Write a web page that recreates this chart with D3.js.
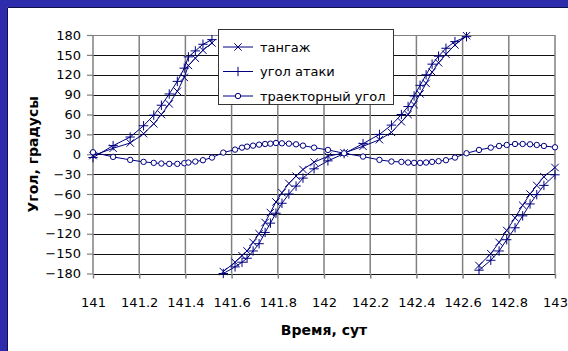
<!DOCTYPE html>
<html>
<head>
<meta charset="utf-8">
<script src="https://cdn.jsdelivr.net/npm/d3@7"></script>
<style>
  body { margin: 0; background: #fff; }
  svg { display: block; }
</style>
</head>
<body>
<script>
// Time, days
const time = [
  141.000, 141.087, 141.161, 141.219, 141.263, 141.296, 141.330, 141.365, 141.395, 141.413,
  141.443, 141.476, 141.515,
  141.564, 141.615, 141.645, 141.667, 141.693, 141.719, 141.745, 141.768, 141.792, 141.818,
  141.848, 141.879, 141.909, 141.957, 142.017, 142.087, 142.169, 142.240, 142.292, 142.335,
  142.364, 142.390, 142.416, 142.442, 142.468, 142.496, 142.528, 142.567, 142.617,
  142.671, 142.722, 142.758, 142.791, 142.827, 142.860, 142.892, 142.921, 142.952, 143.000
];
// Pitch angle, degrees (wrapped to -180..180)
const pitch = [
  -2, 9, 17, 31, 46, 60, 76, 95, 116, 134,
  145, 157, 168,
  -177, -163, -153, -146, -133, -120, -103, -88, -72, -58,
  -44, -33, -23, -12, -3, 2, 12, 22, 33, 49,
  60, 75, 91, 107, 124, 138, 151, 165, 179,
  -168, -150, -133, -115, -96, -77, -60, -47, -34, -20
];
// Angle of attack, degrees
const attack = [
  -5, 13, 26, 43, 59, 74, 91, 110, 130, 147,
  156, 166, 173,
  -180, -170, -163, -157, -146, -135, -118, -104, -89, -74,
  -60, -48, -36, -22, -10, 1, 16, 30, 44, 60,
  72, 88, 104, 120, 136, 148, 160, 170, 177.5,
  -175, -160, -146, -129, -111, -93, -75, -61, -47, -31
];
// Flight path angle, degrees
const trajectory = [
  3, -4, -8.5, -11.5, -13, -14, -14.5, -14.5, -13.5, -12.5,
  -11, -9, -5,
  2.5, 7, 10, 11.5, 13, 14.5, 15.5, 16, 17, 16.5,
  16, 15, 13, 10, 6.5, 1.5, -3.5, -8.5, -11, -11.5,
  -12.5, -13, -13, -12.5, -11.5, -10.5, -9, -5, 1.5,
  6.5, 10, 12.5, 14, 15.5, 15.5, 15, 14, 12.5, 10.5
];
const seriesNames = ["тангаж", "угол атаки", "траекторный угол"];
const xTicks = [141, 141.2, 141.4, 141.6, 141.8, 142, 142.2, 142.4, 142.6, 142.8, 143];
const xTickLabels = ["141", "141.2", "141.4", "141.6", "141.8", "142", "142.2", "142.4", "142.6", "142.8", "143"];
const yTicks = [-180, -150, -120, -90, -60, -30, 0, 30, 60, 90, 120, 150, 180];
const xTitle = "Время, сут";
const yTitle = "Угол, градусы";

const W = 568, H = 351;
const navy = "#000080";
const font = "'DejaVu Sans', Verdana, sans-serif";

const svg = d3.select("body").append("svg").attr("width", W).attr("height", H);

// slide background and white chart sheet
svg.append("rect").attr("width", W).attr("height", H).attr("fill", "#2c2cac");
svg.append("rect").attr("x", 7).attr("y", 7).attr("width", W - 7).attr("height", H - 7).attr("fill", "#fff");
svg.append("path").attr("d", `M7.5,${H}V7.5H${W}`).attr("fill", "none").attr("stroke", "#10104a").attr("stroke-width", 1);

const x = d3.scaleLinear().domain([141, 143]).range([93, 555]);
const y = d3.scaleLinear().domain([-180, 180]).range([273.5, 35]);

// horizontal gridlines
svg.append("g").selectAll("line").data(yTicks).join("line")
  .attr("x1", x(141)).attr("x2", x(143))
  .attr("y1", d => Math.round(y(d)) + 0.5).attr("y2", d => Math.round(y(d)) + 0.5)
  .attr("stroke", d => d === 180 ? "#808080" : "#111").attr("stroke-width", 1);

// vertical gridlines
svg.append("g").selectAll("line").data(xTicks).join("line")
  .attr("x1", d => x(d)).attr("x2", d => x(d))
  .attr("y1", y(180)).attr("y2", y(-180))
  .attr("stroke", "#808080").attr("stroke-width", 1.5);

// y axis (ticks + labels)
const yAxis = d3.axisLeft(y).tickValues(yTicks).tickSize(6).tickPadding(6).tickFormat(d3.format("d"));
const gy = svg.append("g").attr("transform", `translate(${x(141)},0)`).call(yAxis);
gy.select(".domain").remove();
gy.selectAll(".tick line").attr("stroke", "#808080").attr("stroke-width", 1.2);
gy.selectAll(".tick text").attr("font-family", font).attr("font-size", 13).attr("fill", "#000");

// x axis (ticks + labels)
const xAxis = d3.axisBottom(x).tickValues(xTicks).tickSize(5).tickPadding(19)
  .tickFormat((d, i) => xTickLabels[i]);
const gx = svg.append("g").attr("transform", `translate(0,${y(-180)})`).call(xAxis);
gx.select(".domain").remove();
gx.selectAll(".tick line").attr("stroke", "#808080").attr("stroke-width", 1.5);
gx.selectAll(".tick text").attr("font-family", font).attr("font-size", 13).attr("fill", "#000");

// axis titles
svg.append("text").attr("x", (x(141) + x(143)) / 2).attr("y", 335)
  .attr("text-anchor", "middle").attr("font-family", font).attr("font-weight", "bold")
  .attr("font-size", 14).text(xTitle);
svg.append("text").attr("transform", `translate(38,${y(0)}) rotate(-90)`)
  .attr("text-anchor", "middle").attr("font-family", font).attr("font-weight", "bold")
  .attr("font-size", 14).text(yTitle);

// split a wrapped angle series into continuous runs
function runs(values) {
  const out = [];
  let cur = [];
  values.forEach((v, i) => {
    if (i > 0 && Math.abs(v - values[i - 1]) > 180) { out.push(cur); cur = []; }
    cur.push([time[i], v]);
  });
  out.push(cur);
  return out;
}
const line = d3.line().x(d => x(d[0])).y(d => y(d[1]));

const markers = {
  cross: s => `M${-s},${-s}L${s},${s}M${-s},${s}L${s},${-s}`,
  plus: s => `M${-s},0H${s}M0,${-s}V${s}`
};

function drawSeries(values, kind) {
  const g = svg.append("g");
  runs(values).forEach(r => {
    g.append("path").attr("d", line(r)).attr("fill", "none").attr("stroke", navy).attr("stroke-width", 1);
  });
  const pts = values.map((v, i) => [time[i], v]);
  if (kind === "circle") {
    g.selectAll("circle").data(pts).join("circle")
      .attr("cx", d => x(d[0])).attr("cy", d => y(d[1])).attr("r", 2.7)
      .attr("fill", "#fff").attr("stroke", navy).attr("stroke-width", 1);
  } else {
    const s = kind === "cross" ? 3.7 : 4.7;
    g.selectAll("path.m").data(pts).join("path").attr("class", "m")
      .attr("transform", d => `translate(${x(d[0])},${y(d[1])})`)
      .attr("d", markers[kind](s)).attr("fill", "none").attr("stroke", navy).attr("stroke-width", 1);
  }
}
drawSeries(pitch, "cross");
drawSeries(attack, "plus");
drawSeries(trajectory, "circle");

// legend
const lg = svg.append("g");
lg.append("rect").attr("x", 218.5).attr("y", 29.5).attr("width", 175).attr("height", 75)
  .attr("fill", "#fff").attr("stroke", "#333").attr("stroke-width", 1);
const kinds = ["cross", "plus", "circle"];
const rowY = [47, 71.5, 96];
seriesNames.forEach((name, i) => {
  const yy = rowY[i];
  lg.append("line").attr("x1", 223).attr("x2", 253).attr("y1", yy).attr("y2", yy)
    .attr("stroke", navy).attr("stroke-width", 1);
  if (kinds[i] === "circle") {
    lg.append("circle").attr("cx", 238).attr("cy", yy).attr("r", 2.7)
      .attr("fill", "#fff").attr("stroke", navy);
  } else {
    lg.append("path").attr("transform", `translate(238,${yy})`)
      .attr("d", markers[kinds[i]](kinds[i] === "cross" ? 3.7 : 4.7))
      .attr("fill", "none").attr("stroke", navy);
  }
  lg.append("text").attr("x", 260).attr("y", yy).attr("dy", "0.35em")
    .attr("font-family", font).attr("font-size", 13).attr("fill", "#000").text(name);
});
</script>
</body>
</html>
